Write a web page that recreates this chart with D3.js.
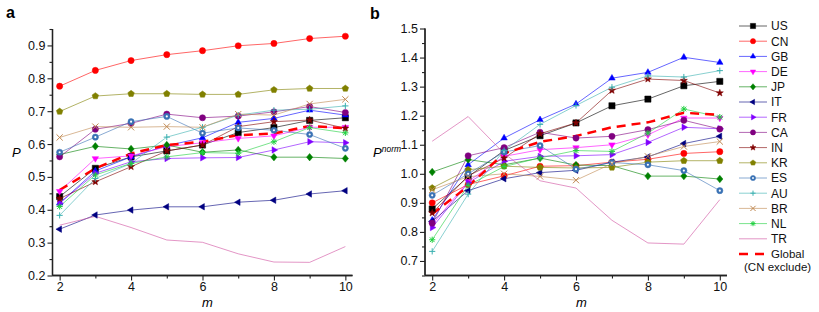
<!DOCTYPE html>
<html>
<head>
<meta charset="utf-8">
<script src="https://cdn.jsdelivr.net/npm/d3@7"></script>
<style>
  body { margin: 0; background: #fff; }
  text { font-family: "Liberation Sans", Arial, sans-serif; }
</style>
</head>
<body>
<div id="chart"></div>
<script>

// data

const mValues = [2, 3, 4, 5, 6, 7, 8, 9, 10]
const countries = ["US", "CN", "GB", "DE", "JP", "IT", "FR", "CA", "IN", "KR", "ES", "AU", "BR", "NL", "TR"]

// panel a : P
const P_US = [0.440, 0.526, 0.561, 0.579, 0.597, 0.635, 0.650, 0.672, 0.680]
const P_CN = [0.776, 0.824, 0.854, 0.872, 0.884, 0.899, 0.906, 0.921, 0.928]
const P_GB = [0.420, 0.518, 0.561, 0.595, 0.619, 0.666, 0.678, 0.703, 0.688]
const P_DE = [0.456, 0.556, 0.564, 0.592, 0.604, 0.617, 0.625, 0.651, 0.651]
const P_JP = [0.568, 0.593, 0.585, 0.597, 0.575, 0.582, 0.560, 0.560, 0.556]
const P_IT = [0.341, 0.384, 0.399, 0.409, 0.409, 0.423, 0.429, 0.448, 0.458]
const P_FR = [0.420, 0.511, 0.546, 0.556, 0.558, 0.559, 0.582, 0.607, 0.604]
const P_CA = [0.561, 0.645, 0.663, 0.691, 0.680, 0.685, 0.698, 0.714, 0.696]
const P_IN = [0.434, 0.485, 0.531, 0.579, 0.597, 0.653, 0.668, 0.673, 0.648]
const P_KR = [0.699, 0.746, 0.753, 0.753, 0.751, 0.751, 0.765, 0.769, 0.769]
const P_ES = [0.575, 0.621, 0.668, 0.684, 0.633, 0.649, 0.642, 0.629, 0.587]
const P_AU = [0.383, 0.495, 0.541, 0.621, 0.651, 0.688, 0.703, 0.706, 0.716]
const P_BR = [0.620, 0.653, 0.651, 0.653, 0.651, 0.691, 0.688, 0.722, 0.736]
const P_NL = [0.410, 0.506, 0.541, 0.561, 0.574, 0.572, 0.607, 0.650, 0.634]
const P_TR = [0.353, 0.380, 0.346, 0.308, 0.301, 0.266, 0.241, 0.240, 0.288]
const P_Global = [0.460, 0.526, 0.571, 0.597, 0.607, 0.627, 0.632, 0.655, 0.648]

// panel b : P norm
const Pn_US = [0.879, 0.990, 1.080, 1.131, 1.175, 1.234, 1.257, 1.303, 1.318]
const Pn_CN = [0.900, 0.963, 0.993, 1.026, 1.028, 1.040, 1.050, 1.070, 1.076]
const Pn_GB = [0.840, 1.031, 1.123, 1.186, 1.240, 1.329, 1.349, 1.401, 1.383]
const Pn_DE = [0.825, 0.974, 1.060, 1.083, 1.090, 1.100, 1.134, 1.192, 1.192]
const Pn_JP = [1.006, 1.049, 1.031, 1.054, 1.030, 1.028, 0.992, 0.992, 0.982]
const Pn_IT = [0.836, 0.942, 0.983, 1.004, 1.012, 1.040, 1.058, 1.104, 1.129]
const Pn_FR = [0.815, 0.969, 1.043, 1.060, 1.062, 1.066, 1.108, 1.160, 1.155]
const Pn_CA = [0.830, 1.062, 1.090, 1.143, 1.123, 1.129, 1.152, 1.184, 1.154]
const Pn_IN = [0.865, 0.993, 1.054, 1.138, 1.175, 1.287, 1.326, 1.321, 1.278]
const Pn_KR = [0.951, 1.014, 1.026, 1.022, 1.020, 1.022, 1.040, 1.045, 1.045]
const Pn_ES = [0.926, 1.000, 1.075, 1.097, 1.016, 1.039, 1.031, 1.011, 0.942]
const Pn_AU = [0.733, 0.930, 1.080, 1.170, 1.235, 1.298, 1.337, 1.333, 1.355]
const Pn_BR = [0.945, 0.990, 1.000, 0.991, 0.978, 1.035, 1.060, 1.094, 1.111]
const Pn_NL = [0.773, 0.960, 1.025, 1.055, 1.080, 1.077, 1.140, 1.223, 1.195]
const Pn_TR = [1.112, 1.197, 1.070, 0.976, 0.951, 0.840, 0.762, 0.758, 0.911]
const Pn_Global = [0.862, 0.957, 1.070, 1.110, 1.130, 1.160, 1.177, 1.210, 1.203]

const ticksA = [0.2, 0.3, 0.4, 0.5, 0.6, 0.7, 0.8, 0.9]
const ticksB = [0.7, 0.8, 0.9, 1.0, 1.1, 1.2, 1.3, 1.4, 1.5]
const ticksM = [2, 4, 6, 8, 10]

const seriesA = [P_US, P_CN, P_GB, P_DE, P_JP, P_IT, P_FR, P_CA, P_IN, P_KR, P_ES, P_AU, P_BR, P_NL, P_TR]
const seriesB = [Pn_US, Pn_CN, Pn_GB, Pn_DE, Pn_JP, Pn_IT, Pn_FR, Pn_CA, Pn_IN, Pn_KR, Pn_ES, Pn_AU, Pn_BR, Pn_NL, Pn_TR]

// styles for each country
const style = {
    US: {color: "#000000", shape: "square"},
    CN: {color: "#ff0000", shape: "circle"},
    GB: {color: "#0000ff", shape: "up"},
    DE: {color: "#ff00ff", shape: "down"},
    JP: {color: "#008000", shape: "diamond"},
    IT: {color: "#000080", shape: "left"},
    FR: {color: "#8000ff", shape: "right"},
    CA: {color: "#800080", shape: "circle"},
    IN: {color: "#800000", shape: "star"},
    KR: {color: "#808000", shape: "pentagon"},
    ES: {color: "#3a72b5", shape: "dotcircle"},
    AU: {color: "#3ab0b0", shape: "plus"},
    BR: {color: "#c08850", shape: "cross"},
    NL: {color: "#20d040", shape: "asterisk"},
    TR: {color: "#d050a0", shape: "none"},
}

const width = 819
const height = 312

const svg = d3.select("#chart").append("svg")
    .attr("width", width)
    .attr("height", height)

// marker path, s = half size
function shapePath(shape, s) {
    const tri = (a) => {
        const pts = [0, 1, 2].map(i => {
            const t = a + i * 2 * Math.PI / 3
            return [s * 1.2 * Math.cos(t), s * 1.2 * Math.sin(t)]
        })
        return "M" + pts.join("L") + "Z"
    }
    switch (shape) {
        case "square": return `M${-s},${-s}H${s}V${s}H${-s}Z`
        case "circle":
        case "dotcircle": return d3.symbol(d3.symbolCircle, Math.PI * s * s)()
        case "up": return tri(-Math.PI / 2)
        case "down": return tri(Math.PI / 2)
        case "left": return tri(Math.PI)
        case "right": return tri(0)
        case "diamond": return `M0,${-s * 1.2}L${s},0L0,${s * 1.2}L${-s},0Z`
        case "star": {
            const pts = d3.range(10).map(i => {
                const r = i % 2 ? s * 0.5 : s * 1.2
                const t = -Math.PI / 2 + i * Math.PI / 5
                return [r * Math.cos(t), r * Math.sin(t)]
            })
            return "M" + pts.join("L") + "Z"
        }
        case "pentagon": {
            const pts = d3.range(5).map(i => {
                const t = -Math.PI / 2 + i * 2 * Math.PI / 5
                return [s * 1.1 * Math.cos(t), s * 1.1 * Math.sin(t)]
            })
            return "M" + pts.join("L") + "Z"
        }
        case "plus": return `M${-s},0H${s}M0,${-s}V${s}`
        case "cross": return `M${-s},${-s}L${s},${s}M${-s},${s}L${s},${-s}`
        case "asterisk": {
            const a = s * 0.75
            return `M${-s},0H${s}M0,${-s}V${s}M${-a},${-a}L${a},${a}M${-a},${a}L${a},${-a}`
        }
    }
    return ""
}

function drawMarker(g, name, x, y, s) {
    const st = style[name]
    if (st.shape === "none") return
    const open = ["plus", "cross", "asterisk"].includes(st.shape)
    g.append("path")
        .attr("transform", `translate(${x},${y})`)
        .attr("d", shapePath(st.shape, s))
        .attr("fill", open ? "none" : st.color)
        .attr("stroke", st.color)
        .attr("stroke-width", open ? 1 : 0.5)
    if (st.shape === "dotcircle") {
        g.append("circle")
            .attr("cx", x).attr("cy", y).attr("r", s * 0.35)
            .attr("fill", "#fff")
    }
}

function panel(opts) {
    const x = d3.scaleLinear().domain([1.8, 10.2]).range([opts.left, opts.right])
    const y = d3.scaleLinear().domain(opts.yDomain).range([opts.bottom, opts.top])
    const g = svg.append("g")

    // minor ticks
    g.append("g")
        .attr("transform", `translate(${opts.left},0)`)
        .call(d3.axisLeft(y).tickValues(opts.minorY).tickSize(3).tickFormat(""))
    g.append("g")
        .attr("transform", `translate(0,${opts.bottom})`)
        .call(d3.axisBottom(x).tickValues([3, 5, 7, 9]).tickSize(3).tickFormat(""))

    g.append("g")
        .attr("transform", `translate(${opts.left},0)`)
        .call(d3.axisLeft(y).tickValues(opts.yTicks).tickSize(5).tickPadding(2)
            .tickFormat(d3.format(".1f")))
    g.append("g")
        .attr("transform", `translate(0,${opts.bottom})`)
        .call(d3.axisBottom(x).tickValues(ticksM).tickSize(5).tickPadding(2))

    g.selectAll(".domain").attr("stroke", "#222").attr("stroke-width", 1.3)
        .attr("d", function () {
            return d3.select(this.parentNode).attr("transform").includes(`translate(0,`)
                ? `M${opts.left},0H${opts.right}`
                : `M0,${opts.top}V${opts.bottom}`
        })
    g.selectAll(".tick line").attr("stroke", "#222").attr("stroke-width", 1.1)
    g.selectAll(".tick text").attr("font-size", 12.5).attr("fill", "#111")
        .style("font-family", "'Liberation Sans', Arial, sans-serif")

    const line = d3.line().x((d, i) => x(mValues[i])).y(d => y(d))

    // country lines
    opts.series.forEach((vals, k) => {
        const name = countries[k]
        g.append("path")
            .datum(vals)
            .attr("d", line)
            .attr("fill", "none")
            .attr("stroke", style[name].color)
            .attr("stroke-opacity", 0.6)
            .attr("stroke-width", 1)
    })

    // global dashed line
    g.append("path")
        .datum(opts.global)
        .attr("d", line)
        .attr("fill", "none")
        .attr("stroke", "#ff0000")
        .attr("stroke-width", 2.5)
        .attr("stroke-dasharray", "9,6")

    // markers
    opts.series.forEach((vals, k) => {
        const name = countries[k]
        vals.forEach((v, i) => drawMarker(g, name, x(mValues[i]), y(v), 3.1))
    })
}

panel({
    left: 52.5, right: 352.5, top: 29, bottom: 275.5,
    yDomain: [0.2, 0.95], yTicks: ticksA,
    minorY: [0.25, 0.35, 0.45, 0.55, 0.65, 0.75, 0.85, 0.95],
    series: seriesA, global: P_Global
})

panel({
    left: 425, right: 727, top: 28.5, bottom: 275.5,
    yDomain: [0.65, 1.5], yTicks: ticksB,
    minorY: [0.65, 0.75, 0.85, 0.95, 1.05, 1.15, 1.25, 1.35, 1.45],
    series: seriesB, global: Pn_Global
})

// panel letters
svg.append("text").attr("x", 6).attr("y", 18).text("a")
    .attr("font-size", 16).attr("font-weight", "bold")
svg.append("text").attr("x", 370).attr("y", 19).text("b")
    .attr("font-size", 16).attr("font-weight", "bold")

// axis titles
svg.append("text").attr("x", 12).attr("y", 157).text("P")
    .attr("font-size", 13).attr("font-style", "italic")
svg.append("text").attr("x", 202).attr("y", 307).text("m")
    .attr("font-size", 13).attr("font-style", "italic")
svg.append("text").attr("x", 576).attr("y", 307).text("m")
    .attr("font-size", 13).attr("font-style", "italic")
const pn = svg.append("text").attr("x", 373).attr("y", 157)
    .attr("font-size", 13).attr("font-style", "italic")
pn.append("tspan").text("P")
pn.append("tspan").attr("dy", -5).attr("font-size", 8.5).text("norm")

// legend
const legend = svg.append("g")
countries.forEach((name, i) => {
    const ly = 26 + i * 15.2
    legend.append("line")
        .attr("x1", 739).attr("x2", 767).attr("y1", ly).attr("y2", ly)
        .attr("stroke", style[name].color).attr("stroke-opacity", 0.6)
    drawMarker(legend, name, 753, ly, 2.6)
    legend.append("text").attr("x", 771).attr("y", ly + 4.3)
        .attr("font-size", 12).attr("fill", "#111").text(name)
})
const gy = 26 + 15 * 15.2
legend.append("line")
    .attr("x1", 739).attr("x2", 766).attr("y1", gy).attr("y2", gy)
    .attr("stroke", "#ff0000").attr("stroke-width", 2.5).attr("stroke-dasharray", "9,7")
legend.append("text").attr("x", 771).attr("y", gy + 3.5)
    .attr("font-size", 11.5).attr("fill", "#111").text("Global")
legend.append("text").attr("x", 744).attr("y", gy + 16.5)
    .attr("font-size", 11.5).attr("fill", "#111").text("(CN exclude)")

</script>
</body>
</html>
